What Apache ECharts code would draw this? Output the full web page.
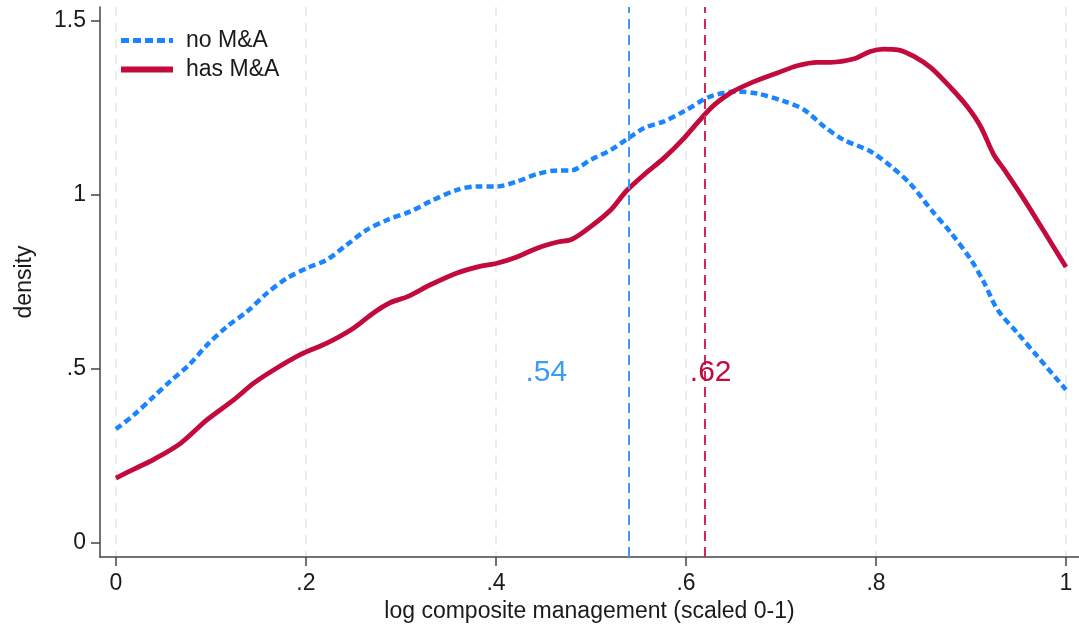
<!DOCTYPE html>
<html>
<head>
<meta charset="utf-8">
<title>Density of management scores by M&amp;A status</title>
<script src="https://cdn.jsdelivr.net/npm/echarts@6/dist/echarts.min.js"></script>
<style>
  html, body { margin: 0; padding: 0; background: #ffffff; }
  #chart { width: 1079px; height: 631px; }
</style>
</head>
<body>
<div id="chart"></div>
<script>
// Kernel density estimates of log composite management (scaled 0-1)
const noMaX = [0, 0.019, 0.040, 0.057, 0.077, 0.096, 0.117, 0.138, 0.159, 0.180, 0.201, 0.222, 0.243, 0.264, 0.286,
  0.310, 0.331, 0.359, 0.380, 0.401, 0.422, 0.444, 0.465, 0.479, 0.500, 0.521, 0.537, 0.556, 0.577, 0.598,
  0.626, 0.654, 0.675, 0.703, 0.724, 0.745, 0.766, 0.794, 0.816, 0.837, 0.858, 0.879, 0.900, 0.914, 0.928,
  0.949, 0.970, 1.000];
const noMaY = [0.326, 0.367, 0.420, 0.463, 0.511, 0.568, 0.621, 0.664, 0.717, 0.760, 0.789, 0.813, 0.856, 0.899, 0.928,
  0.952, 0.981, 1.014, 1.024, 1.024, 1.038, 1.060, 1.070, 1.070, 1.101, 1.129, 1.158, 1.192, 1.211, 1.240,
  1.283, 1.297, 1.291, 1.269, 1.245, 1.197, 1.158, 1.125, 1.081, 1.029, 0.957, 0.890, 0.813, 0.746, 0.669,
  0.602, 0.535, 0.439];

const hasMaX = [0, 0.019, 0.040, 0.068, 0.096, 0.124, 0.145, 0.166, 0.194, 0.222, 0.250, 0.271, 0.289, 0.307,
  0.331, 0.359, 0.380, 0.401, 0.422, 0.444, 0.465, 0.480, 0.500, 0.521, 0.537, 0.556, 0.577, 0.598, 0.626,
  0.647, 0.668, 0.696, 0.717, 0.738, 0.752, 0.777, 0.794, 0.808, 0.823, 0.840, 0.858, 0.879, 0.896, 0.910,
  0.924, 0.935, 0.956, 0.977, 1.000];
const hasMaY = [0.185, 0.211, 0.239, 0.285, 0.353, 0.410, 0.458, 0.496, 0.540, 0.573, 0.616, 0.660, 0.690, 0.707,
  0.741, 0.775, 0.792, 0.803, 0.821, 0.847, 0.864, 0.872, 0.909, 0.957, 1.010, 1.058, 1.106, 1.163, 1.249,
  1.293, 1.321, 1.350, 1.371, 1.381, 1.381, 1.391, 1.412, 1.419, 1.417, 1.398, 1.365, 1.307, 1.254, 1.197,
  1.115, 1.072, 0.986, 0.894, 0.792];

// Group means drawn as vertical reference lines
const groupNames = ['no M&A', 'has M&A'];
const groupMeans = [0.54, 0.62];

const xTicks = [0, 0.2, 0.4, 0.6, 0.8, 1];
const yTicks = [0, 0.5, 1, 1.5];

const blue = '#1a85ff';
const blueRef = '#3b9bf7';
const red = '#c20a3d';
const redRef = '#cc2a50';
const ink = '#1a1a1a';
const font = 'Liberation Sans, Arial, sans-serif';

// Stata-style number format: drop the leading zero
const fmt = v => {
  const s = String(Math.round(v * 100) / 100);
  return s.startsWith('0.') ? s.slice(1) : s;
};

const pairs = (xs, ys) => xs.map((x, i) => [x, ys[i]]);

const chart = echarts.init(document.getElementById('chart'), null, { renderer: 'canvas' });

chart.setOption({
  animation: false,
  backgroundColor: '#ffffff',
  textStyle: { fontFamily: font, color: ink },
  grid: { left: 100, right: 0, top: 7, bottom: 74, containLabel: false, outerBoundsMode: 'none' },
  legend: {
    orient: 'vertical',
    left: 113,
    top: 24,
    itemWidth: 52,
    itemHeight: 14,
    itemGap: 6,
    itemStyle: { opacity: 0 },
    textStyle: { fontSize: 23, color: ink, fontFamily: font, padding: [0, 0, 0, 8] },
    data: [
      { name: groupNames[0], lineStyle: { width: 5, type: [8, 4] } },
      { name: groupNames[1], lineStyle: { width: 6 } }
    ]
  },
  xAxis: {
    type: 'value',
    min: -0.0168,
    max: 1.0137,
    name: 'log composite management (scaled 0-1)',
    nameLocation: 'middle',
    nameGap: 43,
    nameTextStyle: { fontSize: 23, color: ink, fontFamily: font },
    axisLine: { show: true, onZero: false, lineStyle: { color: '#444', width: 1.5 } },
    axisTick: { show: true, length: 9, lineStyle: { color: '#444', width: 1.5 }, customValues: xTicks },
    axisLabel: { fontSize: 23, color: ink, margin: 15, fontFamily: font, customValues: xTicks, formatter: fmt },
    splitLine: { show: true, lineStyle: { color: '#e6e6e6', width: 1.5, type: [9, 7] } }
  },
  yAxis: {
    type: 'value',
    min: -0.042,
    max: 1.54,
    name: 'density',
    nameLocation: 'middle',
    nameGap: 64,
    nameRotate: 90,
    nameTextStyle: { fontSize: 23, color: ink, fontFamily: font },
    axisLine: { show: true, onZero: false, lineStyle: { color: '#444', width: 1.5 } },
    axisTick: { show: true, length: 9, lineStyle: { color: '#444', width: 1.5 }, customValues: yTicks },
    axisLabel: { fontSize: 23, color: ink, margin: 14, fontFamily: font, customValues: yTicks, formatter: fmt },
    splitLine: { show: false }
  },
  series: [
    {
      name: groupNames[0],
      type: 'line',
      data: pairs(noMaX, noMaY),
      smooth: 0.3,
      symbol: 'none',
      color: blue,
      lineStyle: { color: blue, width: 4.5, type: [7, 4] },
      z: 3,
      markLine: {
        silent: true,
        symbol: 'none',
        label: { show: false },
        lineStyle: { color: blueRef, width: 2, type: [10, 6] },
        data: [{ xAxis: groupMeans[0] }]
      },
      markPoint: {
        silent: true,
        symbol: 'circle',
        symbolSize: 0,
        label: { show: true, position: 'inside', offset: [0, 4], fontSize: 30, color: blueRef, fontFamily: font, formatter: fmt(groupMeans[0]) },
        data: [{ coord: [groupMeans[0] - 0.087, 0.5] }]
      }
    },
    {
      name: groupNames[1],
      type: 'line',
      data: pairs(hasMaX, hasMaY),
      smooth: 0.3,
      symbol: 'none',
      color: red,
      lineStyle: { color: red, width: 4.8 },
      z: 4,
      markLine: {
        silent: true,
        symbol: 'none',
        label: { show: false },
        lineStyle: { color: redRef, width: 2, type: [10, 6] },
        data: [{ xAxis: groupMeans[1] }]
      },
      markPoint: {
        silent: true,
        symbol: 'circle',
        symbolSize: 0,
        label: { show: true, position: 'inside', offset: [0, 4], fontSize: 30, color: red, fontFamily: font, formatter: fmt(groupMeans[1]) },
        data: [{ coord: [groupMeans[1] + 0.006, 0.5] }]
      }
    }
  ]
});
</script>
</body>
</html>
